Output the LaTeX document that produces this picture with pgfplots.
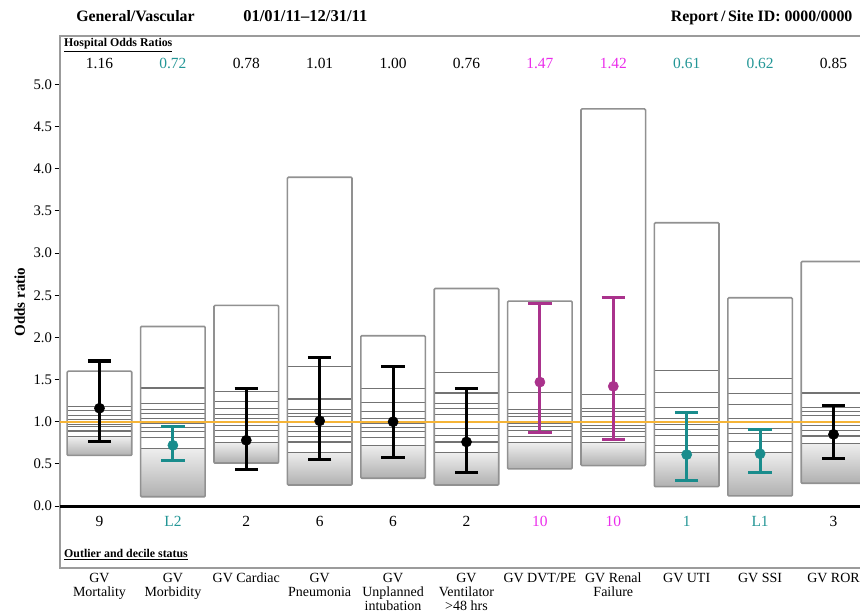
\documentclass[border=0pt]{standalone}
\usepackage{pgfplots}
\pgfplotsset{compat=1.18}
\usepackage{fontspec}
\setmainfont{Liberation Serif}
\definecolor{tealc}{RGB}{35,150,150}
\definecolor{tealbar}{RGB}{25,140,140}
\definecolor{magc}{RGB}{235,45,235}
\definecolor{magbar}{RGB}{170,50,140}
\definecolor{orangec}{RGB}{245,180,55}
\definecolor{framec}{RGB}{155,155,155}
\definecolor{boxc}{RGB}{145,145,145}
\definecolor{decc}{RGB}{115,115,115}
\definecolor{shadetop}{RGB}{238,238,238}
\definecolor{shadebot}{RGB}{176,176,176}
\pgfplotsset{
  boxst/.style={draw=boxc, line width=1.2pt, fill=none, rounded corners=0.8pt},
  shadest/.style={draw=none, top color=shadetop, bottom color=shadebot},
  decst/.style={draw=none, no markers, forget plot, error bars/.cd, x dir=both, x fixed=0.44, error mark=none, error bar style={draw=decc, line width=0.85pt}},
  estst/.style={only marks, mark=*, mark size=3.8pt, color=#1, mark options={fill=#1, draw=#1},
    error bars/.cd, y dir=both, y explicit, error mark=|,
    error bar style={line width=2.3pt, color=#1},
    error mark options={line width=2.3pt, mark size=8.8pt, color=#1}},
}
\begin{document}
\begin{tikzpicture}
\useasboundingbox (0,0) rectangle (645pt,461.25pt);
\clip (0,0) rectangle (645pt,461.25pt);
% header
\node[anchor=base west, font=\fontsize{11.9}{12}\selectfont\bfseries, inner sep=0pt] at (57pt,444.75pt) {General/Vascular};
\node[anchor=base west, font=\fontsize{12.4}{12}\selectfont\bfseries, inner sep=0pt] at (182.25pt,444.75pt) {01/01/11–12/31/11};
\node[anchor=base east, font=\fontsize{11.9}{12}\selectfont\bfseries, inner sep=0pt] at (639.5pt,444.75pt) {Report\,/\,Site ID: 0000/0000};
\begin{axis}[
  at={(45pt,35.25pt)}, anchor=south west,
  scale only axis, width=630pt, height=399pt,
  xmin=-0.538, xmax=10.906, ymin=-0.735, ymax=5.575,
  clip=false,
  axis line style={draw=framec, line width=1.5pt},
  ytick={0,0.5,...,5}, ytick pos=left,
  yticklabel style={font=\fontsize{11}{12}\selectfont, xshift=1.5pt, /pgf/number format/fixed, /pgf/number format/fixed zerofill, /pgf/number format/precision=1, /pgf/number format/assume math mode=true},
  major tick length=4pt, tick align=outside,
  ytick style={draw=black, line width=0.7pt},
  xtick={0,...,10}, xtick style={draw=none}, xtick pos=bottom,
  xticklabels={{GV\\Mortality},{GV\\Morbidity},{GV Cardiac},{GV\\Pneumonia},{GV\\Unplanned\\intubation},{GV\\Ventilator\\>48 hrs},{GV DVT/PE},{GV Renal\\Failure},{GV UTI},{GV SSI},{GV ROR}},
  xticklabel style={font=\fontsize{10.5}{10.6}\selectfont, align=center, anchor=north, inner sep=0pt, yshift=0.4pt},
]
% shaded lowest decile regions
\addplot[shadest] coordinates {(-0.44,0.60) (0.44,0.60) (0.44,0.82) (-0.44,0.82)} -- cycle;
\addplot[shadest] coordinates {(0.56,0.11) (1.44,0.11) (1.44,0.68) (0.56,0.68)} -- cycle;
\addplot[shadest] coordinates {(1.56,0.51) (2.44,0.51) (2.44,0.75) (1.56,0.75)} -- cycle;
\addplot[shadest] coordinates {(2.56,0.25) (3.44,0.25) (3.44,0.64) (2.56,0.64)} -- cycle;
\addplot[shadest] coordinates {(3.56,0.33) (4.44,0.33) (4.44,0.72) (3.56,0.72)} -- cycle;
\addplot[shadest] coordinates {(4.56,0.25) (5.44,0.25) (5.44,0.63) (4.56,0.63)} -- cycle;
\addplot[shadest] coordinates {(5.56,0.44) (6.44,0.44) (6.44,0.75) (5.56,0.75)} -- cycle;
\addplot[shadest] coordinates {(6.56,0.48) (7.44,0.48) (7.44,0.75) (6.56,0.75)} -- cycle;
\addplot[shadest] coordinates {(7.56,0.23) (8.44,0.23) (8.44,0.64) (7.56,0.64)} -- cycle;
\addplot[shadest] coordinates {(8.56,0.12) (9.44,0.12) (9.44,0.64) (8.56,0.64)} -- cycle;
\addplot[shadest] coordinates {(9.56,0.27) (10.44,0.27) (10.44,0.74) (9.56,0.74)} -- cycle;
% decile lines
\addplot[decst] table {
x y
0 0.82
0 0.89
0 0.94
0 0.97
0 1.03
0 1.07
0 1.13
0 1.18
1 0.68
1 0.81
1 0.88
1 0.93
1 0.98
1 1.04
1 1.10
1 1.15
1 1.22
1 1.40
2 0.75
2 0.82
2 0.90
2 0.96
2 1.04
2 1.09
2 1.16
2 1.24
2 1.36
3 0.64
3 0.76
3 0.82
3 0.88
3 0.94
3 1.06
3 1.10
3 1.14
3 1.27
3 1.65
4 0.72
4 0.81
4 0.88
4 0.93
4 0.98
4 1.04
4 1.12
4 1.23
4 1.39
5 0.63
5 0.76
5 0.84
5 0.92
5 1.09
5 1.16
5 1.22
5 1.34
5 1.58
6 0.75
6 0.82
6 0.90
6 0.94
6 0.98
6 1.06
6 1.10
6 1.14
6 1.35
7 0.75
7 0.82
7 0.88
7 0.92
7 0.96
7 1.06
7 1.12
7 1.16
7 1.32
8 0.64
8 0.72
8 0.84
8 0.91
8 0.97
8 1.04
8 1.17
8 1.35
8 1.61
9 0.64
9 0.77
9 0.86
9 0.92
9 1.04
9 1.20
9 1.33
9 1.51
10 0.74
10 0.83
10 0.90
10 0.96
10 1.07
10 1.12
10 1.17
10 1.34
};
% box outlines
\addplot[boxst] coordinates {(-0.44,0.60) (0.44,0.60) (0.44,1.60) (-0.44,1.60)} -- cycle;
\addplot[boxst] coordinates {(0.56,0.11) (1.44,0.11) (1.44,2.13) (0.56,2.13)} -- cycle;
\addplot[boxst] coordinates {(1.56,0.51) (2.44,0.51) (2.44,2.38) (1.56,2.38)} -- cycle;
\addplot[boxst] coordinates {(2.56,0.25) (3.44,0.25) (3.44,3.90) (2.56,3.90)} -- cycle;
\addplot[boxst] coordinates {(3.56,0.33) (4.44,0.33) (4.44,2.02) (3.56,2.02)} -- cycle;
\addplot[boxst] coordinates {(4.56,0.25) (5.44,0.25) (5.44,2.58) (4.56,2.58)} -- cycle;
\addplot[boxst] coordinates {(5.56,0.44) (6.44,0.44) (6.44,2.43) (5.56,2.43)} -- cycle;
\addplot[boxst] coordinates {(6.56,0.48) (7.44,0.48) (7.44,4.71) (6.56,4.71)} -- cycle;
\addplot[boxst] coordinates {(7.56,0.23) (8.44,0.23) (8.44,3.36) (7.56,3.36)} -- cycle;
\addplot[boxst] coordinates {(8.56,0.12) (9.44,0.12) (9.44,2.47) (8.56,2.47)} -- cycle;
\addplot[boxst] coordinates {(9.56,0.27) (10.44,0.27) (10.44,2.90) (9.56,2.90)} -- cycle;
% reference lines
\addplot[orangec, line width=1.8pt] coordinates {(-0.538,1) (10.906,1)};
\addplot[black, line width=2.2pt] coordinates {(-0.538,0) (10.906,0)};
% estimates with confidence intervals
\addplot[estst=black] table[x=x, y=y, y error plus expr=\thisrow{hi}-\thisrow{y}, y error minus expr=\thisrow{y}-\thisrow{lo}] {
x y lo hi
0 1.16 0.76 1.72
2 0.78 0.43 1.39
3 1.01 0.55 1.76
4 1.00 0.58 1.66
5 0.76 0.40 1.39
10 0.85 0.56 1.19
};
\addplot[estst=tealbar] table[x=x, y=y, y error plus expr=\thisrow{hi}-\thisrow{y}, y error minus expr=\thisrow{y}-\thisrow{lo}] {
x y lo hi
1 0.72 0.54 0.94
8 0.61 0.30 1.11
9 0.62 0.40 0.91
};
\addplot[estst=magbar] table[x=x, y=y, y error plus expr=\thisrow{hi}-\thisrow{y}, y error minus expr=\thisrow{y}-\thisrow{lo}] {
x y lo hi
6 1.47 0.87 2.40
7 1.42 0.79 2.47
};
% section labels
\node[anchor=base west, inner sep=0pt, font=\fontsize{8.9}{9}\selectfont\bfseries] at (axis cs:-0.484,5.445) {\underline{Hospital Odds Ratios}};
\node[anchor=base west, inner sep=0pt, font=\fontsize{8.9}{9}\selectfont\bfseries] at (axis cs:-0.484,-0.61) {\underline{Outlier and decile status}};
\node[rotate=90, font=\fontsize{11.3}{12}\selectfont\bfseries] at (rel axis cs:-0.048,0.5) {Odds ratio};
% hospital odds ratios
\begin{scope}[every node/.style={anchor=base, inner sep=0pt, font=\fontsize{11.6}{12}\selectfont}]
\node at (axis cs:0,5.195) {1.16};
\node[text=tealc] at (axis cs:1,5.195) {0.72};
\node at (axis cs:2,5.195) {0.78};
\node at (axis cs:3,5.195) {1.01};
\node at (axis cs:4,5.195) {1.00};
\node at (axis cs:5,5.195) {0.76};
\node[text=magc] at (axis cs:6,5.195) {1.47};
\node[text=magc] at (axis cs:7,5.195) {1.42};
\node[text=tealc] at (axis cs:8,5.195) {0.61};
\node[text=tealc] at (axis cs:9,5.195) {0.62};
\node at (axis cs:10,5.195) {0.85};
% outlier and decile status
\node at (axis cs:0,-0.245) {9};
\node[text=tealc] at (axis cs:1,-0.245) {L2};
\node at (axis cs:2,-0.245) {2};
\node at (axis cs:3,-0.245) {6};
\node at (axis cs:4,-0.245) {6};
\node at (axis cs:5,-0.245) {2};
\node[text=magc] at (axis cs:6,-0.245) {10};
\node[text=magc] at (axis cs:7,-0.245) {10};
\node[text=tealc] at (axis cs:8,-0.245) {1};
\node[text=tealc] at (axis cs:9,-0.245) {L1};
\node at (axis cs:10,-0.245) {3};
\end{scope}
\end{axis}
\end{tikzpicture}
\end{document}
